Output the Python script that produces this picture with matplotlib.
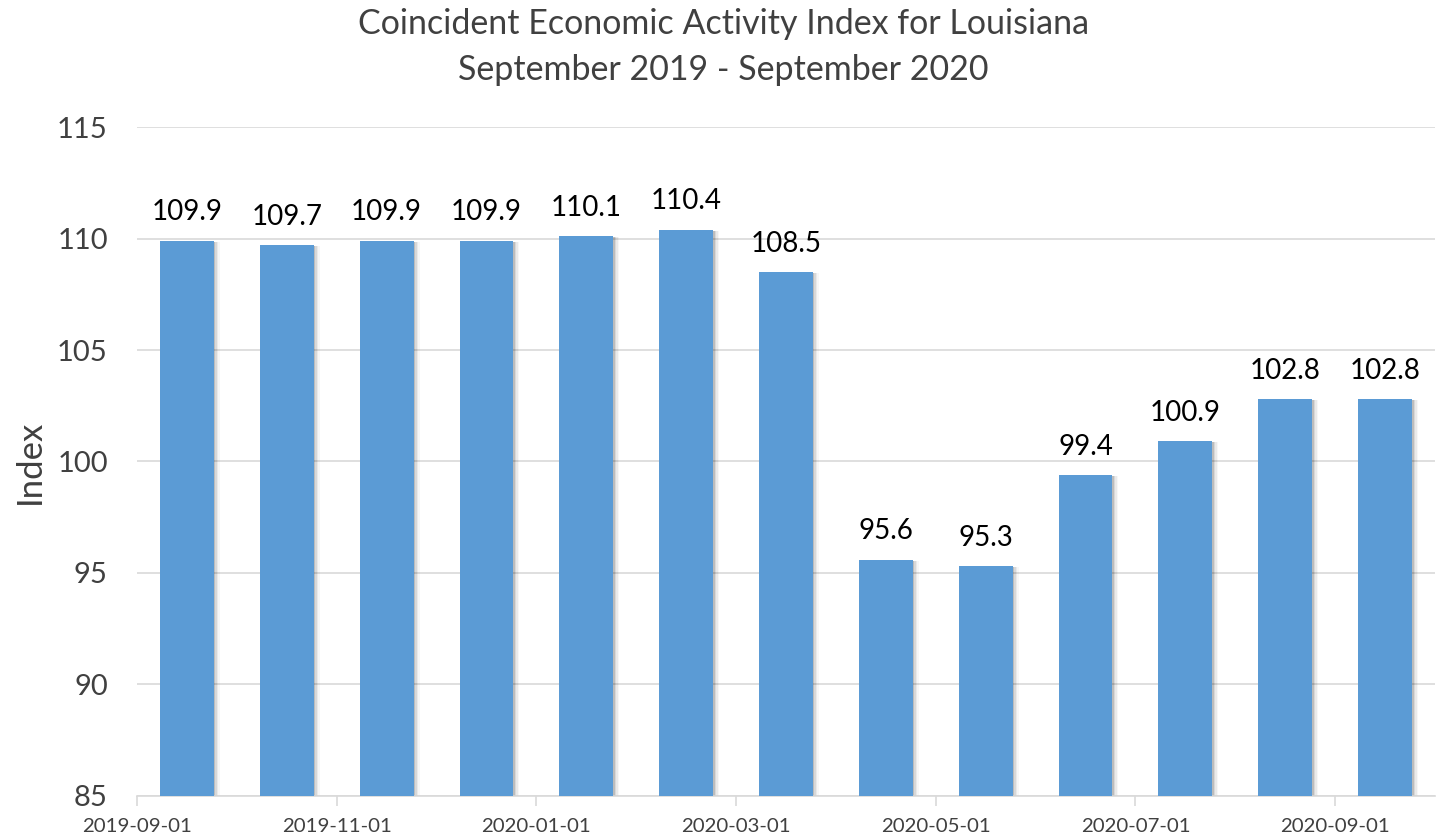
import matplotlib
matplotlib.use("Agg")
import matplotlib.pyplot as plt
import matplotlib.transforms as mtransforms

months = ["2019-09-01", "2019-10-01", "2019-11-01", "2019-12-01", "2020-01-01",
          "2020-02-01", "2020-03-01", "2020-04-01", "2020-05-01", "2020-06-01",
          "2020-07-01", "2020-08-01", "2020-09-01"]
values = [109.9, 109.7, 109.9, 109.9, 110.1, 110.4, 108.5, 95.6, 95.3, 99.4, 100.9, 102.8, 102.8]
yticks = [85, 90, 95, 100, 105, 110, 115]

plt.rcParams['font.family'] = ['Lato', 'DejaVu Sans']
fig = plt.figure(figsize=(14.47, 8.36), dpi=100)
ax = fig.add_axes([0.0947, 0.048, 0.897, 0.800])

x = list(range(len(values)))
bars = ax.bar(x, [v - 85 for v in values], bottom=85, width=0.54, color='#5b9bd5', zorder=3)

# soft shadow on the right of each bar
for b in bars:
    for k, a in enumerate([0.12, 0.08, 0.05, 0.03]):
        off = mtransforms.offset_copy(ax.transData, fig=fig, x=1.5 + 1.5 * k, y=-1, units='dots')
        sh = plt.Rectangle((b.get_x(), b.get_y()), b.get_width(), b.get_height(),
                           transform=off, color='black', alpha=a, zorder=2, lw=0)
        ax.add_patch(sh)

for xi, v in zip(x, values):
    ax.annotate(f"{v:.1f}", (xi, v), xytext=(0, 11), textcoords='offset points',
                ha='center', va='bottom', fontsize=20, color='black')

ax.set_xlim(-0.5, len(values) - 0.5)
ax.set_ylim(85, 115)
ax.set_yticks(yticks)
ax.set_yticklabels([str(t) for t in yticks], fontsize=21, color='#404040')
ax.set_xticks([i - 0.5 for i in range(0, len(values), 2)])
ax.set_xticklabels(months[0::2], fontsize=14.7, color='#404040')
ax.tick_params(axis='y', length=0, pad=21)
ax.tick_params(axis='x', length=7, color='#d9d9d9', width=1.2, pad=9)
ax.grid(axis='y', color='#d9d9d9', lw=1.2, zorder=0)
for s in ['top', 'right', 'left']:
    ax.spines[s].set_visible(False)
ax.spines['bottom'].set_color('#d9d9d9')
ax.spines['bottom'].set_linewidth(1.2)
ax.set_ylabel('Index', fontsize=25, color='#404040', labelpad=8)

fig.text(0.5, 0.971, "Coincident Economic Activity Index for Louisiana",
         ha='center', va='center', fontsize=24.5, color='#404040')
fig.text(0.5, 0.916, "September 2019 - September 2020",
         ha='center', va='center', fontsize=24.5, color='#404040')

fig.savefig('out.png', dpi=100)
